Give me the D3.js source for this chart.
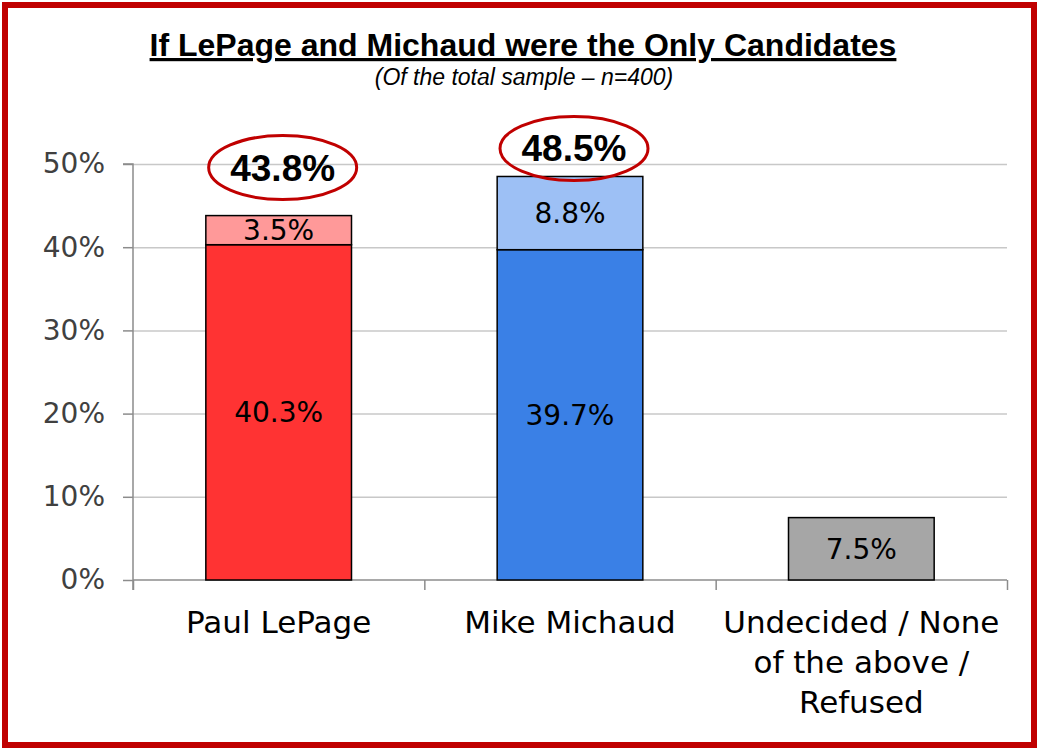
<!DOCTYPE html>
<html>
<head>
<meta charset="utf-8">
<script src="https://cdn.jsdelivr.net/npm/d3@7/dist/d3.min.js"></script>
<style>
  html, body { margin: 0; padding: 0; background: #fff; }
  svg { display: block; }
</style>
</head>
<body>
<svg id="chart" width="1039" height="750"></svg>
<script>
// ---- data ----
const categories = ["Paul LePage", "Mike Michaud", "Undecided / None of the above / Refused"];
const categoryLines = [["Paul LePage"], ["Mike Michaud"], ["Undecided / None", "of the above /", "Refused"]];
const firmValues = [40.3, 39.7, 7.5];
const leanValues = [3.5, 8.8, 0];
const totalValues = [43.8, 48.5, null];
const yTickValues = [0, 10, 20, 30, 40, 50];
const titleText = "If LePage and Michaud were the Only Candidates";
const subtitleText = "(Of the total sample \u2013 n=400)";

// ---- styles ----
const baseColors = ["#FF3333", "#3A80E6", "#A6A6A6"];
const topColors = ["#FF9999", "#9DC0F5", "#A6A6A6"];
const gothic = "'Century Gothic','URW Gothic','DejaVu Sans',sans-serif";

const svg = d3.select("#chart");
const W = 1039, H = 750;
const margin = { left: 133, right: 32, top: 164, bottom: 170 };
const plotW = W - margin.left - margin.right;
const plotH = H - margin.top - margin.bottom;

// border
svg.append("rect")
  .attr("x", 5).attr("y", 5).attr("width", W - 10).attr("height", H - 10)
  .attr("fill", "none").attr("stroke", "#C00000").attr("stroke-width", 6);

// title
svg.append("text")
  .attr("x", 523).attr("y", 56)
  .attr("text-anchor", "middle")
  .style("font-family", "'Liberation Sans', Arial, sans-serif")
  .style("font-weight", "bold").style("font-size", "32px")
  .style("text-decoration", "underline")
  .text(titleText);

svg.append("text")
  .attr("x", 524).attr("y", 85)
  .attr("text-anchor", "middle")
  .style("font-family", "'Liberation Sans', Arial, sans-serif")
  .style("font-style", "italic").style("font-size", "23px")
  .text(subtitleText);

const g = svg.append("g").attr("transform", `translate(${margin.left},${margin.top})`);

const x = d3.scaleBand().domain(categories).range([0, plotW]).paddingInner(0.5).paddingOuter(0.25);
const y = d3.scaleLinear().domain([0, 50]).range([plotH, 0]);

// gridlines
g.append("g")
  .call(d3.axisLeft(y).tickValues(yTickValues.slice(1)).tickSize(-plotW).tickFormat(""))
  .call(a => a.select(".domain").remove())
  .call(a => a.selectAll("line").attr("stroke", "#C8C8C8").attr("stroke-width", 1.5));

// y axis
const yAxis = g.append("g")
  .call(d3.axisLeft(y).tickValues(yTickValues).tickSize(10).tickPadding(18).tickFormat(d => d + "%"));
yAxis.select(".domain").attr("stroke", "#8C8C8C").attr("stroke-width", 1.5).attr("d", `M-10,0H0V${plotH + 10}`);
yAxis.selectAll("line").attr("stroke", "#8C8C8C").attr("stroke-width", 1.5);
yAxis.selectAll("text")
  .style("font-family", gothic).style("font-size", "28px").attr("fill", "#404040");

// x axis (tick marks at category boundaries)
const boundary = d3.scaleLinear().domain([0, categories.length]).range([0, plotW]);
const xAxis = g.append("g").attr("transform", `translate(0,${plotH})`)
  .call(d3.axisBottom(boundary).ticks(categories.length).tickSize(10).tickFormat(""));
xAxis.select(".domain").attr("stroke", "#8C8C8C").attr("stroke-width", 1.5).attr("d", `M0,0H${plotW}`);
xAxis.selectAll("line").attr("stroke", "#8C8C8C").attr("stroke-width", 1.5);

// category labels
const labels = g.append("g").selectAll("text").data(categories).join("text")
  .attr("text-anchor", "middle")
  .attr("transform", d => `translate(${x(d) + x.bandwidth() / 2},${plotH + 53})`)
  .style("font-family", gothic).style("font-size", "31px").attr("fill", "#000");
labels.each(function (d, i) {
  d3.select(this).selectAll("tspan").data(categoryLines[i]).join("tspan")
    .attr("x", 0).attr("dy", (t, j) => j === 0 ? 0 : 40).text(t => t);
});

// stacked bars
const rows = categories.map((c, i) => ({ cat: c, firm: firmValues[i], lean: leanValues[i] }));
const stack = d3.stack().keys(["firm", "lean"])(rows);

stack.forEach((layer, li) => {
  g.append("g").selectAll("rect").data(layer).join("rect")
    .filter(d => d[1] - d[0] > 0)
    .attr("x", d => x(d.data.cat))
    .attr("y", d => y(d[1]))
    .attr("width", x.bandwidth())
    .attr("height", d => y(d[0]) - y(d[1]))
    .attr("fill", d => li === 0 ? baseColors[categories.indexOf(d.data.cat)] : topColors[categories.indexOf(d.data.cat)])
    .attr("stroke", "#000").attr("stroke-width", 1.5);
});

// segment labels
stack.forEach((layer) => {
  g.append("g").selectAll("text").data(layer.filter(d => d[1] - d[0] > 0)).join("text")
    .attr("x", d => x(d.data.cat) + x.bandwidth() / 2)
    .attr("y", d => (y(d[0]) + y(d[1])) / 2 + 10)
    .attr("text-anchor", "middle")
    .style("font-family", gothic).style("font-size", "28px").attr("fill", "#000")
    .text(d => (d[1] - d[0]).toFixed(1) + "%");
});

// totals with ellipses
const totalOffsets = [48, 28];
const totals = categories.map((c, i) => ({ cat: c, v: totalValues[i], i })).filter(d => d.v != null);
const tg = g.append("g").selectAll("g").data(totals).join("g")
  .attr("transform", d => `translate(${x(d.cat) + x.bandwidth() / 2 + 4},${y(d.v) - totalOffsets[d.i]})`);
tg.append("ellipse").attr("rx", 74).attr("ry", 32)
  .attr("fill", "none").attr("stroke", "#C00000").attr("stroke-width", 3);
tg.append("text").attr("text-anchor", "middle").attr("y", 13)
  .style("font-family", "'Liberation Sans', Arial, sans-serif")
  .style("font-weight", "bold").style("font-size", "37px").attr("fill", "#000")
  .text(d => d.v.toFixed(1) + "%");
</script>
</body>
</html>
